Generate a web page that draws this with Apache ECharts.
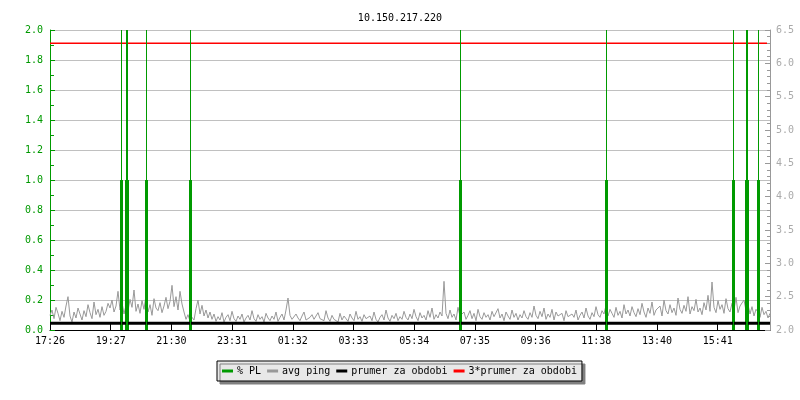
<!DOCTYPE html>
<html>
<head>
<meta charset="utf-8">
<script src="https://cdn.jsdelivr.net/npm/echarts@6/dist/echarts.min.js"></script>
<style>html,body{margin:0;padding:0;background:#fff}#c{width:800px;height:400px}</style>
</head>
<body>
<div id="c"></div>
<script>
// ---- data ----
const titleText = '10.150.217.220';
const tickLabels = ['17:26','19:27','21:30','23:31','01:32','03:33','05:34','07:35','09:36','11:38','13:40','15:41'];
const tickStepMin = 121.4;      // minutes between labelled ticks
const spanMin = 1440;           // 24 h window
const sampleStepMin = 4;        // avg ping sample spacing (minutes)
// avg ping (ms), one value per sample
const avgPing = [
2.22,2.30,2.17,2.34,2.25,2.14,2.28,2.19,2.36,2.50,2.21,2.12,2.27,2.18,2.33,2.24,2.15,2.29,2.20,2.38,
2.26,2.17,2.42,2.23,2.31,2.19,2.35,2.22,2.28,2.40,2.33,2.45,2.27,2.36,2.58,2.30,2.41,2.24,2.37,2.29,
2.46,2.34,2.60,2.28,2.39,2.25,2.44,2.31,2.52,2.27,2.38,2.22,2.47,2.33,2.29,2.41,2.26,2.36,2.49,2.32,
2.43,2.67,2.35,2.50,2.30,2.58,2.39,2.27,2.16,2.23,2.13,2.19,2.15,2.32,2.45,2.24,2.37,2.21,2.30,2.18,
2.27,2.16,2.24,2.13,2.20,2.15,2.26,2.12,2.19,2.23,2.14,2.28,2.17,2.13,2.21,2.16,2.24,2.12,2.18,2.22,
2.15,2.29,2.17,2.13,2.23,2.16,2.20,2.12,2.25,2.18,2.14,2.21,2.16,2.27,2.13,2.19,2.24,2.15,2.30,2.48,
2.22,2.16,2.13,2.24,2.18,2.14,2.21,2.27,2.15,2.12,2.19,2.23,2.16,2.13,2.26,2.17,2.20,2.14,2.29,2.18,
2.13,2.22,2.16,2.19,2.12,2.25,2.15,2.21,2.17,2.13,2.24,2.18,2.14,2.28,2.16,2.20,2.13,2.23,2.17,2.15,
2.21,2.14,2.27,2.16,2.12,2.19,2.23,2.15,2.30,2.18,2.13,2.22,2.17,2.25,2.14,2.20,2.16,2.28,2.19,2.15,
2.24,2.17,2.31,2.20,2.14,2.26,2.18,2.22,2.15,2.29,2.19,2.33,2.16,2.23,2.18,2.27,2.21,2.73,2.25,2.17,
2.30,2.19,2.24,2.15,2.34,2.21,2.18,2.27,2.16,2.22,2.29,2.17,2.25,2.14,2.31,2.20,2.16,2.26,2.19,2.23,
2.15,2.28,2.20,2.17,2.32,2.18,2.24,2.14,2.27,2.21,2.16,2.30,2.19,2.25,2.15,2.23,2.18,2.29,2.20,2.16,
2.26,2.19,2.36,2.22,2.17,2.28,2.20,2.33,2.16,2.24,2.19,2.31,2.15,2.27,2.21,2.18,2.25,2.14,2.29,2.20,
2.17,2.24,2.19,2.30,2.15,2.22,2.27,2.18,2.33,2.21,2.16,2.26,2.20,2.35,2.23,2.19,2.29,2.24,2.37,2.21,
2.31,2.25,2.19,2.34,2.22,2.28,2.18,2.38,2.24,2.30,2.21,2.35,2.26,2.20,2.32,2.23,2.40,2.27,2.19,2.33,
2.25,2.42,2.22,2.30,2.27,2.36,2.21,2.45,2.29,2.24,2.38,2.26,2.33,2.22,2.48,2.31,2.25,2.37,2.28,2.50,
2.24,2.35,2.29,2.46,2.27,2.33,2.23,2.41,2.30,2.52,2.28,2.72,2.34,2.26,2.44,2.31,2.38,2.25,2.47,2.32,
2.27,2.40,2.30,2.49,2.26,2.36,2.33,2.45,2.29,2.38,2.24,2.35,2.21,2.31,2.27,2.19,2.34,2.23,2.28,2.18,
2.25
];
// packet loss events: minute offset and % PL
const plMinutes = [143, 153, 155, 193, 281, 821, 1113, 1367, 1393, 1395, 1417];
const plValues  = [1, 1, 1, 1, 1, 1, 1, 1, 1, 1, 1];
const periodAvg = 2.10;        // prumer za obdobi
const periodAvg3 = 6.30;       // 3*prumer za obdobi

// ---- chart ----
const GREEN = '#009a00', GRAY = '#999999', MONO = 'DejaVu Sans Mono';
const chart = echarts.init(document.getElementById('c'), null, {renderer: 'canvas'});
const pingData = avgPing.map((v, i) => [i * sampleStepMin, v]);
const plData = plMinutes.map((m, i) => [m, plValues[i]]);

chart.setOption({
  animation: false,
  backgroundColor: '#fff',
  title: {text: titleText, left: 'center', top: 8,
    textStyle: {fontFamily: MONO, fontSize: 10, fontWeight: 'normal', color: '#000'}},
  legend: {
    left: 217, top: 361, itemWidth: 11, itemHeight: 3, itemGap: 6, icon: 'rect',
    padding: [5, 5, 5, 5],
    backgroundColor: '#e8e8e8', borderColor: '#000', borderWidth: 1,
    shadowColor: '#808080', shadowOffsetX: 3, shadowOffsetY: 3, shadowBlur: 0.01,
    textStyle: {fontFamily: MONO, fontSize: 10, color: '#000', padding: [0, 0, 0, -1]},
    data: ['% PL', 'avg ping', 'prumer za obdobi', '3*prumer za obdobi']
  },
  grid: {left: 50, right: 30, top: 30, bottom: 70},
  xAxis: {
    type: 'value', min: 0, max: spanMin, interval: tickStepMin,
    axisLine: {lineStyle: {color: '#000', width: 1}},
    axisTick: {inside: true, length: 6, lineStyle: {color: '#000'}},
    axisLabel: {fontFamily: MONO, fontSize: 10, color: '#000', margin: 6,
      showMaxLabel: false,
      formatter: v => {
        const k = Math.round(v / tickStepMin);
        return (Math.abs(v - k * tickStepMin) < 0.5 && k < tickLabels.length) ? tickLabels[k] : '';
      }},
    splitLine: {show: false}
  },
  yAxis: [{
    type: 'value', min: 0, max: 2, interval: 0.2, position: 'left',
    axisLine: {show: true, lineStyle: {color: GREEN, width: 1}},
    axisTick: {show: true, inside: true, length: 5, lineStyle: {color: GREEN}},
    minorTick: {show: true, splitNumber: 2, length: 4, lineStyle: {color: GREEN}},
    axisLabel: {fontFamily: MONO, fontSize: 10, color: GREEN, margin: 7, formatter: v => v.toFixed(1)},
    splitLine: {show: true, lineStyle: {color: '#c0c0c0', width: 1}}
  }, {
    type: 'value', min: 2, max: 6.5, interval: 0.5, position: 'right',
    axisLine: {show: true, lineStyle: {color: GRAY, width: 1}},
    axisTick: {show: true, inside: true, length: 5, lineStyle: {color: GRAY}},
    minorTick: {show: true, splitNumber: 5, length: 3, lineStyle: {color: GRAY}},
    axisLabel: {fontFamily: MONO, fontSize: 10, color: '#aaaaaa', margin: 6, formatter: v => v.toFixed(1)},
    splitLine: {show: false}
  }],
  series: [{
    name: 'avg ping', type: 'line', yAxisIndex: 1, data: pingData,
    showSymbol: false, symbol: 'none', lineStyle: {color: GRAY, width: 1}, itemStyle: {color: GRAY}, z: 2
  }, {
    name: '% PL', type: 'bar', yAxisIndex: 0, data: plData, barWidth: 3,
    itemStyle: {color: GREEN}, z: 3,
    markLine: {symbol: 'none', silent: true, label: {show: false},
      lineStyle: {color: GREEN, width: 1, type: 'solid'},
      data: plMinutes.map(m => ({xAxis: m}))}
  }, {
    name: 'prumer za obdobi', type: 'line', yAxisIndex: 1,
    data: [[0, periodAvg], [spanMin, periodAvg]],
    symbol: 'none', lineStyle: {color: '#000', width: 3}, itemStyle: {color: '#000'}, z: 4
  }, {
    name: '3*prumer za obdobi', type: 'line', yAxisIndex: 1,
    data: [[0, periodAvg3], [spanMin - 6, periodAvg3]],
    symbol: 'none', lineStyle: {color: '#ff0000', width: 1.5}, itemStyle: {color: '#ff0000'}, z: 4
  }]
});
</script>
</body>
</html>
